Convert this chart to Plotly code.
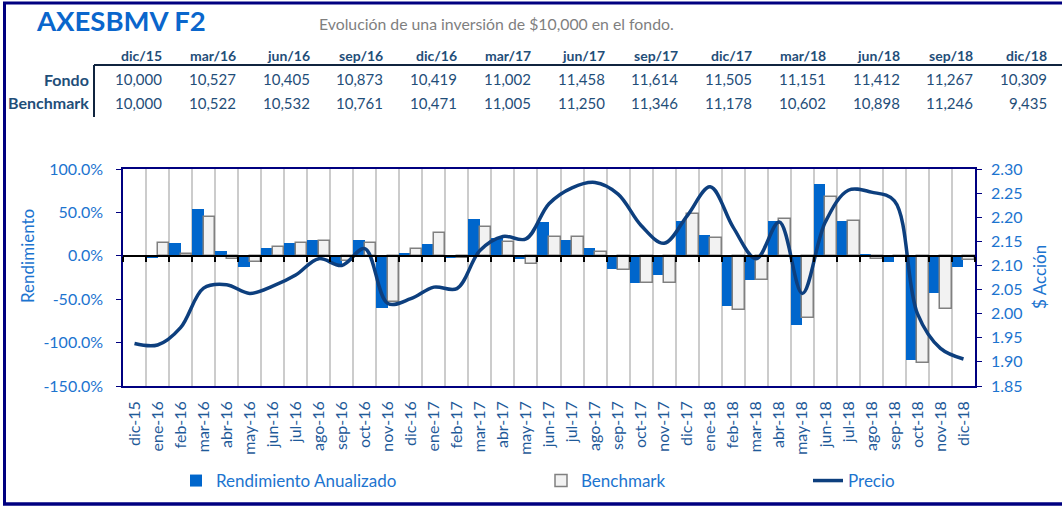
import plotly.graph_objects as go

W, H = 1062, 506

# ---------------- data ----------------
months = ["dic-15", "ene-16", "feb-16", "mar-16", "abr-16", "may-16", "jun-16", "jul-16",
          "ago-16", "sep-16", "oct-16", "nov-16", "dic-16", "ene-17", "feb-17", "mar-17",
          "abr-17", "may-17", "jun-17", "jul-17", "ago-17", "sep-17", "oct-17", "nov-17",
          "dic-17", "ene-18", "feb-18", "mar-18", "abr-18", "may-18", "jun-18", "jul-18",
          "ago-18", "sep-18", "oct-18", "nov-18", "dic-18"]

rendimiento = [None, -2, 15, 54.4, 6, -12.4, 9.3, 15, 18, -9, 18, -60, 3.5, 13.5, -2, 42.9,
               21, -3.5, 38.6, 18, 9.3, -15, -31.3, -22.4, 39.8, 24, -57.5, -28.2, 39.8, -79.5,
               82.2, 39.8, 2, -7.7, -120.5, -43.2, -12.4]

benchmark = [None, 15, 2, 45.2, -3.5, -7.7, 10.4, 15, 16.6, -6, 14.7, -53.7, 7.7, 26.6, -3, 33.6,
             16.2, -8.9, 22, 22, 4.6, -15.8, -30.9, -30.9, 48.6, 20.8, -63, -27.8, 42.9, -71.8,
             67.2, 39.8, -3.5, -1.5, -124, -61.4, -4.6]

precio = [1.938, 1.935, 1.971, 2.053, 2.060, 2.042, 2.057, 2.080, 2.114, 2.100, 2.135, 2.021,
          2.031, 2.055, 2.052, 2.131, 2.160, 2.155, 2.228, 2.261, 2.272, 2.248, 2.183, 2.146,
          2.203, 2.263, 2.179, 2.114, 2.190, 2.042, 2.190, 2.256, 2.252, 2.234, 2.000, 1.928,
          1.906]

table_dates = ["dic/15", "mar/16", "jun/16", "sep/16", "dic/16", "mar/17", "jun/17", "sep/17",
               "dic/17", "mar/18", "jun/18", "sep/18", "dic/18"]
fondo_vals = ["10,000", "10,527", "10,405", "10,873", "10,419", "11,002", "11,458", "11,614",
              "11,505", "11,151", "11,412", "11,267", "10,309"]
bench_vals = ["10,000", "10,522", "10,532", "10,761", "10,471", "11,005", "11,250", "11,346",
              "11,178", "10,602", "10,898", "11,246", "9,435"]

left_tickvals = [-150, -100, -50, 0, 50, 100]
left_ticktext = ["-150.0%", "-100.0%", "-50.0%", "0.0%", "50.0%", "100.0%"]
right_tickvals = [1.85, 1.90, 1.95, 2.00, 2.05, 2.10, 2.15, 2.20, 2.25, 2.30]

# ---------------- styles ----------------
FONT = "Lato"
NAVY = "#000080"
BLUE_BAR = "#0066cc"
AX_BLUE = "#1c74cf"
XLAB_BLUE = "#1f5a99"
TAB_BLUE = "#1f4e79"
LINE_COL = "#0d3f7e"

def px(x):
    return x / W

def py(y):
    return 1 - y / H

x0, x1 = 123, 975
yt, yb = 169, 386
ydom = [py(yb), py(yt)]
zero_pos = ydom[0] + (0 - (-150)) / 250 * (ydom[1] - ydom[0])

fig = go.Figure()
fig.add_trace(go.Bar(x=months, y=rendimiento, name="Rendimiento Anualizado",
                     marker=dict(color=BLUE_BAR, line=dict(width=0)),
                     legend="legend"))
fig.add_trace(go.Bar(x=months, y=benchmark, name="Benchmark",
                     marker=dict(color="#f2f2f2", line=dict(color="#808080", width=1.5)),
                     legend="legend2"))
fig.add_trace(go.Scatter(x=months, y=precio, name="Precio", mode="lines",
                         line=dict(color=LINE_COL, width=3.5, shape="spline", smoothing=1.0),
                         xaxis="x2", yaxis="y2", legend="legend3"))

LEG_FONT = dict(family=FONT, size=17, color=AX_BLUE)
fig.update_layout(
    width=W, height=H,
    margin=dict(l=0, r=0, t=0, b=0),
    paper_bgcolor="white", plot_bgcolor="white",
    font=dict(family=FONT, color=AX_BLUE),
    barmode="group", bargap=0.0, bargroupgap=0.0,
    xaxis=dict(domain=[px(x0), px(x1)], type="category", categoryorder="array",
               categoryarray=months, tickson="boundaries", showgrid=True,
               gridcolor="#cccccc", gridwidth=1.5, ticks="", tickangle=-90,
               tickfont=dict(family=FONT, size=16, color=XLAB_BLUE),
               ticklabelstandoff=7,
               showline=True, linecolor=NAVY, linewidth=1.5, mirror=True,
               automargin=False, zeroline=False),
    xaxis2=dict(matches="x", overlaying="x", anchor="free", position=zero_pos,
                type="category", tickson="boundaries", showgrid=False,
                ticks="outside", ticklen=5, tickwidth=1.5, tickcolor="black",
                showticklabels=False, showline=True, linecolor="black", linewidth=1.5,
                automargin=False, zeroline=False),
    yaxis=dict(domain=ydom, range=[-150, 100], tickvals=left_tickvals,
               ticktext=left_ticktext, ticks="outside", ticklen=5, tickcolor=NAVY,
               tickfont=dict(family=FONT, size=16, color=AX_BLUE),
               ticklabelstandoff=10,
               showline=True, linecolor=NAVY, linewidth=1.5, showgrid=False,
               zeroline=False, automargin=False),
    yaxis2=dict(overlaying="y", side="right", anchor="x", range=[1.85, 2.30],
                tickvals=right_tickvals, tickformat=".2f", ticks="outside", ticklen=5,
                tickcolor=NAVY, tickfont=dict(family=FONT, size=16, color=AX_BLUE),
                ticklabelstandoff=6,
                showline=True, linecolor=NAVY, linewidth=1.5, showgrid=False,
                zeroline=False, automargin=False),
    legend=dict(x=px(176), y=py(481), xanchor="left", yanchor="middle",
                bgcolor="rgba(0,0,0,0)", font=LEG_FONT),
    legend2=dict(x=px(541), y=py(481), xanchor="left", yanchor="middle",
                 bgcolor="rgba(0,0,0,0)", font=LEG_FONT),
    legend3=dict(x=px(808), y=py(481), xanchor="left", yanchor="middle",
                 bgcolor="rgba(0,0,0,0)", font=LEG_FONT),
    showlegend=True,
)

ann = []
# title and subtitle
ann.append(dict(x=px(34), y=py(21), xref="paper", yref="paper", xanchor="left",
                yanchor="middle", showarrow=False, text="<b>AXESBMV F2</b>",
                font=dict(family=FONT, size=27.5, color="#0a66cc")))
ann.append(dict(x=px(317), y=py(24), xref="paper", yref="paper", xanchor="left",
                yanchor="middle", showarrow=False,
                text="Evolución de una inversión de $10,000 en el fondo.",
                font=dict(family=FONT, size=15.8, color="#7f7f7f")))
# table
col_right0, col_step = 164, 73.75
for i, (d, f, b) in enumerate(zip(table_dates, fondo_vals, bench_vals)):
    xr = px(col_right0 + i * col_step)
    ann.append(dict(x=xr, y=py(55), xref="paper", yref="paper", xanchor="right",
                    yanchor="middle", showarrow=False, text=f"<b>{d}</b>",
                    font=dict(family=FONT, size=14, color=TAB_BLUE)))
    ann.append(dict(x=xr, y=py(79), xref="paper", yref="paper", xanchor="right",
                    yanchor="middle", showarrow=False, text=f,
                    font=dict(family=FONT, size=15, color=TAB_BLUE)))
    ann.append(dict(x=xr, y=py(103), xref="paper", yref="paper", xanchor="right",
                    yanchor="middle", showarrow=False, text=b,
                    font=dict(family=FONT, size=15, color=TAB_BLUE)))
for label, yy in [("Fondo", 79), ("Benchmark", 103)]:
    ann.append(dict(x=px(91), y=py(yy), xref="paper", yref="paper", xanchor="right",
                    yanchor="middle", showarrow=False, text=f"<b>{label}</b>",
                    font=dict(family=FONT, size=16, color=TAB_BLUE)))
# axis titles
ann.append(dict(x=px(28), y=py(256), xref="paper", yref="paper", xanchor="center",
                yanchor="middle", showarrow=False, text="Rendimiento", textangle=-90,
                font=dict(family=FONT, size=17, color=AX_BLUE)))
ann.append(dict(x=px(1039), y=py(277), xref="paper", yref="paper", xanchor="center",
                yanchor="middle", showarrow=False, text="$ Acción", textangle=-90,
                font=dict(family=FONT, size=17, color=AX_BLUE)))
fig.update_layout(annotations=ann)

shapes = [
    # outer frame (left, top, bottom)
    dict(type="line", xref="paper", yref="paper", x0=px(4.5), x1=px(4.5), y0=py(3), y1=py(504),
         line=dict(color=NAVY, width=3)),
    dict(type="line", xref="paper", yref="paper", x0=px(3), x1=1, y0=py(3), y1=py(3),
         line=dict(color=NAVY, width=3)),
    dict(type="line", xref="paper", yref="paper", x0=px(3), x1=1, y0=py(504), y1=py(504),
         line=dict(color=NAVY, width=3.5)),
    # table rules
    dict(type="line", xref="paper", yref="paper", x0=px(94), x1=1, y0=py(65), y1=py(65),
         line=dict(color="#10243f", width=2)),
    dict(type="line", xref="paper", yref="paper", x0=px(94), x1=px(94), y0=py(65), y1=py(117),
         line=dict(color="#10243f", width=2)),
]
fig.update_layout(shapes=shapes)

fig.write_html("out.html")
